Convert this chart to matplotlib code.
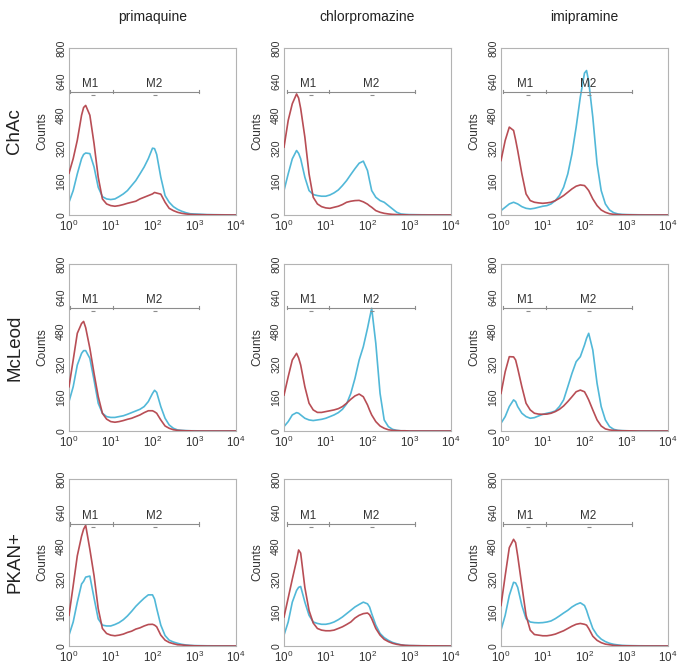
import numpy as np
import matplotlib
matplotlib.use('Agg')
import matplotlib.pyplot as plt
from matplotlib.ticker import FixedLocator, NullLocator, LogFormatterSciNotation

plt.rcParams['font.family'] = ['Liberation Sans', 'DejaVu Sans']
plt.rcParams['mathtext.fontset'] = 'custom'
plt.rcParams['mathtext.rm'] = 'Liberation Sans'
plt.rcParams['mathtext.it'] = 'Liberation Sans:italic'
plt.rcParams['mathtext.bf'] = 'Liberation Sans:bold'

drugs = ['primaquine', 'chlorpromazine', 'imipramine']
groups = ['ChAc', 'McLeod', 'PKAN+']

fluor = [1.0, 1.26, 1.58, 2.0, 2.24, 2.51, 3.16, 3.98, 5.01, 6.31, 7.94,
         10.0, 12.6, 15.8, 20.0, 25.1, 31.6, 39.8, 50.1, 63.1, 79.4,
         100.0, 112.0, 126.0, 158.0, 200.0, 251.0, 316.0, 398.0, 501.0,
         631.0, 794.0, 1000.0, 2000.0, 10000.0]

# ---- counts: red (control) and blue (drug) histograms ----
chac_prim_red = [200, 270, 358, 478, 515, 525, 478, 342, 181, 77, 53, 45, 42, 45, 50, 56, 61, 66, 77, 85, 93, 101, 108, 105, 100, 61, 32, 21, 13, 8, 5, 3, 2, 1, 0]
chac_prim_blue = [61, 117, 197, 270, 290, 297, 294, 230, 133, 88, 77, 74, 77, 88, 101, 117, 141, 165, 197, 230, 270, 320, 318, 290, 181, 93, 61, 40, 27, 18, 11, 6, 5, 2, 0]
chac_chlor_red = [325, 453, 533, 580, 560, 510, 373, 197, 85, 53, 40, 34, 32, 37, 42, 50, 61, 66, 69, 70, 63, 52, 44, 37, 21, 13, 8, 5, 3, 2, 1, 1, 0, 0, 0]
chac_chlor_blue = [117, 197, 269, 309, 295, 269, 181, 117, 98, 93, 90, 90, 96, 106, 120, 141, 165, 194, 222, 248, 258, 213, 165, 117, 85, 69, 61, 45, 29, 13, 5, 3, 2, 1, 0]
chac_imip_red = [261, 357, 421, 405, 360, 309, 197, 101, 69, 61, 58, 56, 58, 61, 69, 80, 93, 109, 125, 138, 144, 141, 130, 117, 77, 45, 24, 13, 6, 3, 2, 1, 1, 0, 0]
chac_imip_blue = [21, 37, 53, 61, 57, 53, 40, 32, 29, 32, 37, 42, 45, 53, 69, 93, 133, 197, 293, 421, 565, 680, 692, 640, 469, 245, 117, 53, 24, 11, 5, 3, 2, 1, 0]

mcl_prim_red = [212, 340, 468, 515, 525, 495, 396, 276, 165, 85, 57, 45, 42, 45, 50, 56, 61, 69, 77, 88, 97, 97, 92, 85, 53, 24, 13, 6, 3, 2, 1, 1, 0, 0, 0]
mcl_prim_blue = [141, 212, 316, 372, 385, 385, 348, 244, 133, 85, 69, 65, 65, 69, 73, 80, 88, 96, 104, 117, 141, 180, 195, 185, 117, 61, 29, 13, 5, 3, 2, 1, 1, 0, 0]
mcl_chlor_red = [172, 260, 340, 372, 350, 316, 212, 133, 101, 89, 89, 93, 97, 101, 107, 117, 133, 152, 168, 177, 164, 125, 100, 77, 45, 24, 13, 6, 3, 2, 1, 1, 0, 0, 0]
mcl_chlor_blue = [21, 45, 77, 88, 85, 77, 61, 53, 50, 53, 56, 61, 69, 77, 88, 104, 130, 180, 252, 340, 404, 492, 540, 588, 420, 180, 53, 21, 8, 3, 1, 1, 0, 0, 0]
mcl_imip_red = [180, 284, 356, 355, 340, 300, 212, 133, 101, 85, 81, 80, 81, 85, 93, 104, 120, 141, 164, 188, 196, 188, 170, 149, 101, 53, 24, 10, 5, 3, 2, 1, 1, 0, 0]
mcl_imip_blue = [37, 69, 117, 149, 141, 117, 85, 69, 61, 64, 72, 80, 85, 89, 96, 117, 149, 212, 276, 332, 356, 412, 444, 468, 388, 228, 117, 53, 21, 8, 3, 2, 1, 0, 0]

pkan_prim_red = [147, 289, 432, 526, 560, 578, 463, 337, 179, 84, 60, 52, 49, 52, 57, 65, 71, 81, 87, 96, 103, 104, 100, 92, 52, 28, 17, 11, 6, 5, 3, 2, 1, 0, 0]
pkan_prim_blue = [52, 115, 210, 297, 310, 330, 335, 230, 130, 100, 96, 96, 103, 112, 126, 144, 166, 190, 210, 229, 245, 245, 225, 180, 100, 50, 28, 19, 13, 8, 5, 3, 2, 1, 0]
pkan_chlor_red = [139, 230, 320, 410, 460, 445, 280, 170, 110, 84, 76, 73, 73, 76, 84, 92, 103, 115, 134, 147, 155, 158, 150, 131, 84, 52, 32, 21, 13, 8, 5, 3, 2, 1, 0]
pkan_chlor_blue = [52, 115, 210, 266, 281, 285, 210, 147, 115, 108, 104, 104, 108, 115, 126, 139, 155, 171, 187, 199, 210, 202, 187, 155, 100, 60, 40, 27, 17, 11, 6, 3, 2, 1, 0]
pkan_imip_red = [194, 337, 471, 511, 495, 432, 289, 147, 76, 55, 52, 49, 49, 52, 57, 65, 73, 84, 95, 104, 108, 104, 100, 84, 47, 27, 16, 9, 6, 3, 2, 1, 1, 0, 0]
pkan_imip_blue = [76, 147, 242, 305, 302, 281, 194, 131, 115, 112, 111, 112, 115, 120, 131, 144, 158, 171, 187, 199, 207, 194, 171, 139, 84, 52, 33, 21, 13, 8, 5, 3, 2, 1, 0]

red_series = [[chac_prim_red, chac_chlor_red, chac_imip_red],
              [mcl_prim_red, mcl_chlor_red, mcl_imip_red],
              [pkan_prim_red, pkan_chlor_red, pkan_imip_red]]
blue_series = [[chac_prim_blue, chac_chlor_blue, chac_imip_blue],
               [mcl_prim_blue, mcl_chlor_blue, mcl_imip_blue],
               [pkan_prim_blue, pkan_chlor_blue, pkan_imip_blue]]

# marker gates M1 / M2 (per column) and their height (per row)
gate_start = [1.06, 1.16, 1.14]
gate_mid = [11.3, 11.8, 11.8]
gate_end = [1330, 1380, 1370]
m1_label_x = [3.2, 3.8, 3.8]
m2_label_x = [112, 125, 125]
gate_y = [591, 591, 585]

y_ticks = [0, 160, 320, 480, 640, 800]
x_ticks = [1, 10, 100, 1000, 10000]

RED = '#b4444c'
BLUE = '#48b4d6'
GRAY = '#8c8c8c'
FRAME = '#b3b3b3'

W, H = 683, 669
fig = plt.figure(figsize=(W / 100, H / 100), dpi=100)

col_left = [69, 284, 501]
row_top = [48, 264, 479]
aw, ah = 167, 167

for r in range(3):
    for c in range(3):
        ax = fig.add_axes([col_left[c] / W, 1 - (row_top[r] + ah) / H, aw / W, ah / H])
        ax.set_xscale('log')
        ax.plot(fluor, blue_series[r][c], color=BLUE, lw=1.2, alpha=0.95, zorder=2)
        ax.plot(fluor, red_series[r][c], color=RED, lw=1.2, alpha=0.95, zorder=3)
        ax.set_xlim(1, 10000)
        ax.set_ylim(0, 800)
        ax.xaxis.set_major_locator(FixedLocator(x_ticks))
        ax.xaxis.set_major_formatter(LogFormatterSciNotation())
        ax.xaxis.set_minor_locator(NullLocator())
        ax.yaxis.set_major_locator(FixedLocator(y_ticks))
        ax.tick_params(axis='both', length=0, labelsize=7.6, colors='#333333', pad=2)
        ax.tick_params(axis='x', labelsize=8.4, pad=2.5)
        for lbl in ax.get_yticklabels():
            lbl.set_rotation(90)
            lbl.set_va('center')
            lbl.set_ha('right')
        for sp in ax.spines.values():
            sp.set_color(FRAME)
            sp.set_linewidth(0.8)
        ax.set_ylabel('Counts', fontsize=8.6, color='#333333', labelpad=6)

        # gates
        gy = gate_y[r]
        ax.plot([gate_start[c], gate_mid[c], gate_end[c]], [gy, gy, gy],
                color=GRAY, lw=0.8, zorder=4)
        for gx in (gate_start[c], gate_mid[c], gate_end[c]):
            ax.plot([gx, gx], [gy - 8, gy + 8], color=GRAY, lw=0.8, zorder=4)
        ax.plot([m1_label_x[c] * 1.15, m2_label_x[c] * 1.05], [gy - 14, gy - 14],
                ls='none', marker='_', ms=2.5, color=GRAY, mew=0.8)
        ax.text(m1_label_x[c], gy + 8, 'M1', ha='center', va='bottom',
                fontsize=8.4, color='#333333')
        ax.text(m2_label_x[c], gy + 8, 'M2', ha='center', va='bottom',
                fontsize=8.4, color='#333333')

for c in range(3):
    fig.text((col_left[c] + aw / 2) / W, 1 - 17 / H, drugs[c], ha='center', va='center',
             fontsize=10, color='#222222')
for r in range(3):
    fig.text(15 / W, 1 - (row_top[r] + ah / 2) / H, groups[r], rotation=90,
             ha='center', va='center', fontsize=13.5, color='#222222')

fig.savefig('out.png', dpi=100)
